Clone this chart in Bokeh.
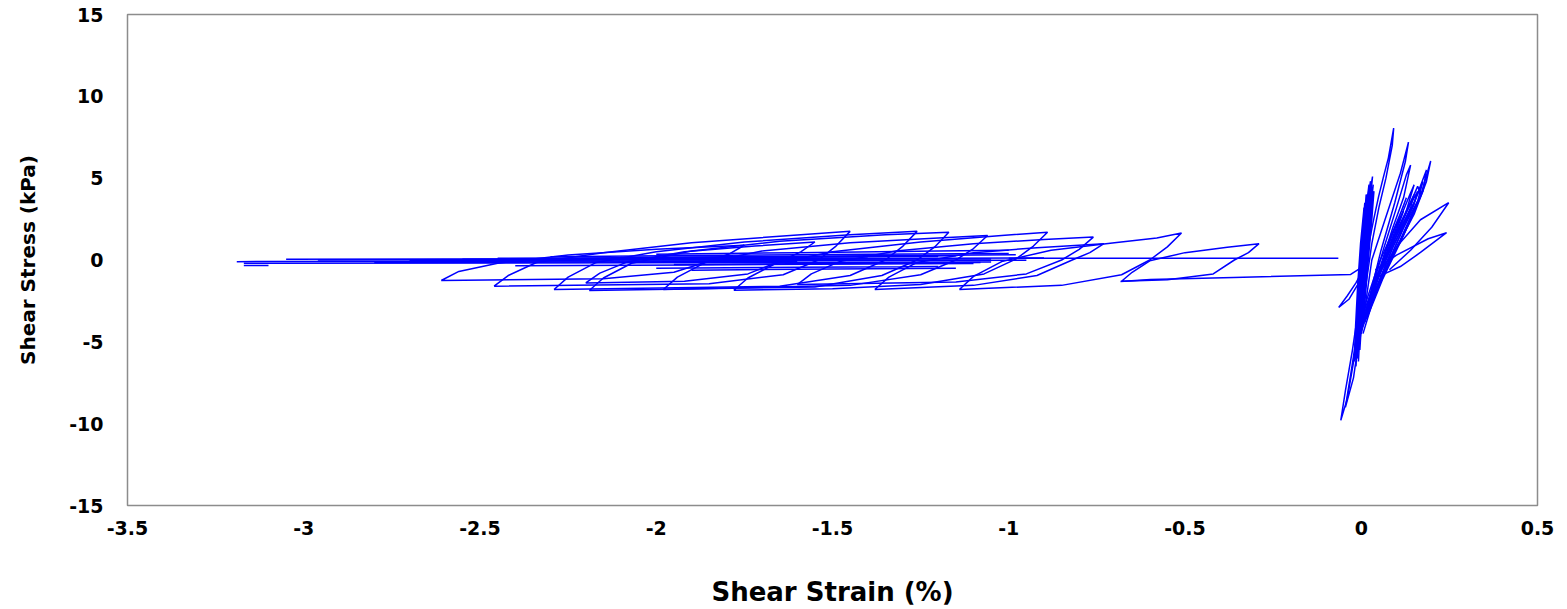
from bokeh.plotting import figure
from bokeh.models import FixedTicker, Range1d
from bokeh.embed import file_html
from bokeh.resources import INLINE

# ---- axis ticks ----
x_ticks = [-3.5, -3.0, -2.5, -2.0, -1.5, -1.0, -0.5, 0.0, 0.5]
x_tick_labels = ["-3.5", "-3", "-2.5", "-2", "-1.5", "-1", "-0.5", "0", "0.5"]
y_ticks = [-15, -10, -5, 0, 5, 10, 15]
y_tick_labels = ["-15", "-10", "-5", "0", "5", "10", "15"]

# ---- large-strain cycles drifting to negative strain (strain %, stress kPa) ----
drift_strain = [
    [-0.68, -0.65, -0.60, -0.50, -0.38, -0.29, -0.32, -0.36, -0.42, -0.55, -0.68],
    [-1.14, -1.10, -1.02, -0.88, -0.70, -0.58, -0.51, -0.55, -0.60, -0.68, -0.85, -1.14],
    [-1.38, -1.34, -1.26, -1.10, -0.92, -0.73, -0.77, -0.82, -0.92, -1.10, -1.38],
    [-1.78, -1.74, -1.66, -1.50, -1.25, -1.02, -0.89, -0.93, -0.98, -1.07, -1.25, -1.50, -1.78],
    [-1.98, -1.94, -1.86, -1.70, -1.45, -1.20, -1.06, -1.10, -1.15, -1.25, -1.45, -1.98],
    [-2.19, -2.15, -2.07, -1.90, -1.65, -1.35, -1.17, -1.21, -1.26, -1.36, -1.55, -2.19],
    [-2.29, -2.25, -2.17, -2.00, -1.75, -1.45, -1.26, -1.30, -1.35, -1.45, -1.65, -2.29],
    [-2.46, -2.42, -2.34, -2.15, -1.90, -1.62, -1.45, -1.49, -1.54, -1.64, -1.85, -2.46],
    [-2.61, -2.56, -2.45, -2.25, -2.00, -1.75, -1.79, -1.84, -1.95, -2.15, -2.61],
    [-2.20, -2.16, -2.08, -1.92, -1.72, -1.55, -1.59, -1.64, -1.74, -1.92, -2.20],
    [-1.60, -1.56, -1.48, -1.32, -1.10, -0.90, -0.76, -0.80, -0.85, -0.95, -1.15, -1.60],
]
drift_stress = [
    [-1.30, -0.75, -0.05, 0.45, 0.78, 1.00, 0.45, 0.00, -0.85, -1.20, -1.30],
    [-1.80, -1.00, -0.10, 0.60, 1.05, 1.35, 1.65, 0.80, 0.00, -0.90, -1.55, -1.80],
    [-1.80, -1.05, -0.15, 0.45, 0.75, 1.00, 0.45, 0.00, -0.95, -1.55, -1.80],
    [-1.85, -1.10, -0.20, 0.50, 1.10, 1.50, 1.70, 0.85, 0.05, -0.85, -1.50, -1.75, -1.85],
    [-1.80, -1.05, -0.15, 0.55, 1.05, 1.35, 1.50, 0.70, 0.00, -0.90, -1.55, -1.80],
    [-1.86, -1.10, -0.20, 0.55, 1.15, 1.55, 1.70, 0.80, 0.00, -0.95, -1.65, -1.86],
    [-1.80, -1.05, -0.15, 0.50, 1.10, 1.55, 1.75, 0.85, 0.00, -0.95, -1.60, -1.80],
    [-1.60, -0.95, -0.15, 0.45, 1.05, 1.50, 1.75, 0.85, 0.00, -0.90, -1.45, -1.60],
    [-1.25, -0.70, -0.20, 0.30, 0.65, 0.90, 0.40, 0.00, -0.75, -1.15, -1.25],
    [-1.40, -0.80, -0.10, 0.50, 0.85, 1.10, 0.50, 0.00, -0.85, -1.30, -1.40],
    [-1.50, -0.85, -0.10, 0.55, 1.00, 1.25, 1.40, 0.65, 0.00, -0.85, -1.35, -1.50],
]

# ---- long near-zero-stress sweeps ----
sweep_strain = [
    [-3.19, -2.50, -1.80, -0.95],
    [-3.17, -2.40, -1.70, -1.05],
    [-2.96, -2.30, -1.60, -0.90],
    [-1.00, -0.60, -0.30, -0.065],
    [-3.17, -3.10],
    [-2.55, -2.00, -1.50, -1.20],
    [-2.30, -1.90, -1.40, -1.00],
    [-2.40, -1.90, -1.40, -1.10],
    [-2.00, -1.60, -1.20, -1.00],
    [-2.00, -1.60, -1.30, -1.20],
    [-2.80, -2.20, -1.60],
    [-0.683, -0.598, -0.362, -0.030, 0.000],
    [-3.05, -2.60, -2.10, -1.40],
    [-2.70, -2.10, -1.50, -1.05],
    [-2.10, -1.70, -1.30, -0.98],
    [-1.95, -1.55, -1.25, -1.08],
    [-2.45, -1.95, -1.45, -1.15],
    [-1.90, -1.50, -1.15],
]
sweep_stress = [
    [-0.10, -0.08, -0.05, -0.02],
    [-0.20, -0.18, -0.15, -0.12],
    [0.00, 0.03, 0.08, 0.12],
    [0.10, 0.10, 0.10, 0.10],
    [-0.33, -0.33],
    [0.05, 0.12, 0.18, 0.22],
    [0.20, 0.28, 0.35, 0.40],
    [-0.35, -0.30, -0.25, -0.22],
    [0.35, 0.45, 0.55, 0.60],
    [-0.50, -0.45, -0.42, -0.40],
    [-0.15, -0.12, -0.08],
    [-1.31, -1.19, -1.07, -0.88, -0.46],
    [0.05, 0.06, 0.08, 0.10],
    [-0.05, 0.00, 0.04, 0.06],
    [0.15, 0.22, 0.28, 0.32],
    [-0.28, -0.22, -0.18, -0.15],
    [0.10, 0.16, 0.22, 0.26],
    [-0.62, -0.55, -0.50],
]

# ---- small-strain cycles around zero strain ----
cyclic_strain = [
    [-0.008, 0.005, 0.018, 0.035, 0.049, 0.063, 0.077, 0.092, 0.088, 0.070, 0.050, 0.030, 0.010, -0.005],
    [0.000, 0.030, 0.068, 0.111, 0.134, 0.125, 0.095, 0.055, 0.015],
    [0.000, 0.032, 0.120, 0.168, 0.197, 0.185, 0.150, 0.090, 0.040, 0.005],
    [-0.012, -0.005, 0.005, 0.018, 0.032, 0.025, 0.012, 0.000, -0.008],
    [-0.010, 0.000, 0.010, 0.022, 0.018, 0.006, -0.004],
    [-0.015, -0.006, 0.004, 0.014, 0.008, -0.002, -0.012],
    [-0.005, 0.008, 0.020, 0.030, 0.024, 0.010, -0.002],
    [0.000, 0.040, 0.100, 0.150, 0.185, 0.175, 0.130, 0.070, 0.020],
    [0.005, 0.050, 0.110, 0.160, 0.170, 0.120, 0.060, 0.015],
    [0.010, 0.060, 0.110, 0.150, 0.140, 0.090, 0.030],
    [-0.058, -0.045, -0.025, -0.008, 0.005, 0.000, -0.020, -0.040, -0.058],
    [-0.045, -0.030, -0.012, 0.004, -0.004, -0.022, -0.045],
    [-0.064, -0.040, -0.015, -0.005, -0.010, -0.035, -0.064],
    [0.060, 0.111, 0.168, 0.248, 0.200, 0.140, 0.080],
    [0.040, 0.100, 0.190, 0.242, 0.168, 0.111, 0.050],
    [-0.012, 0.000, 0.012, 0.020, 0.014, 0.002, -0.010],
    [-0.004, 0.006, 0.016, 0.026, 0.020, 0.008, -0.006],
    [-0.017, -0.010, 0.000, 0.010, 0.004, -0.006, -0.015],
    [-0.014, -0.004, 0.006, 0.016, 0.010, 0.000, -0.012],
    [-0.010, 0.000, 0.012, 0.024, 0.018, 0.006, -0.008],
    [-0.006, 0.004, 0.016, 0.028, 0.022, 0.010, -0.004],
    [0.000, 0.010, 0.020, 0.032, 0.026, 0.014, 0.002],
    [-0.016, -0.008, 0.002, 0.012, 0.006, -0.004, -0.014],
    [-0.008, 0.004, 0.014, 0.026, 0.020, 0.008, -0.006],
    [-0.012, -0.002, 0.008, 0.020, 0.014, 0.004, -0.010],
    [0.000, 0.040, 0.090, 0.140, 0.175, 0.160, 0.110, 0.055, 0.010],
    [0.005, 0.045, 0.095, 0.130, 0.160, 0.150, 0.100, 0.050, 0.012],
    [0.010, 0.050, 0.085, 0.120, 0.110, 0.070, 0.030],
    [-0.020, -0.016, -0.010, -0.002, 0.008, 0.002, -0.008, -0.014, -0.019],
    [-0.018, -0.012, -0.004, 0.006, 0.016, 0.028, 0.020, 0.008, -0.004, -0.016],
    [0.004, 0.012, 0.022, 0.030, 0.036, 0.030, 0.018, 0.008],
    [0.010, 0.030, 0.060, 0.090, 0.120, 0.140, 0.128, 0.100, 0.065, 0.030, 0.012],
    [0.014, 0.040, 0.070, 0.100, 0.128, 0.118, 0.085, 0.050, 0.020],
    [0.020, 0.050, 0.090, 0.125, 0.150, 0.138, 0.100, 0.060, 0.028],
    [-0.019, -0.013, -0.006, 0.002, 0.010, 0.004, -0.004, -0.012, -0.018],
    [-0.015, -0.009, -0.002, 0.006, 0.014, 0.022, 0.016, 0.006, -0.004, -0.013],
    [-0.011, -0.003, 0.006, 0.015, 0.024, 0.034, 0.026, 0.014, 0.004, -0.008],
    [-0.003, 0.006, 0.016, 0.026, 0.034, 0.028, 0.016, 0.004],
]
cyclic_stress = [
    [-5.5, -2.0, 0.6, 2.45, 3.86, 5.08, 6.24, 8.06, 7.0, 5.0, 3.2, 1.0, -2.0, -5.0],
    [-4.5, 0.0, 2.5, 5.3, 7.2, 6.0, 3.5, 0.5, -3.0],
    [-4.2, -2.4, 2.0, 3.9, 6.05, 4.8, 2.8, 0.3, -2.0, -4.5],
    [-6.0, -2.0, 1.0, 3.3, 5.1, 3.5, 0.5, -3.0, -6.2],
    [-5.0, -1.0, 2.5, 4.6, 3.0, 0.0, -4.0],
    [-6.5, -3.0, 1.0, 4.0, 2.0, -2.0, -6.0],
    [-5.0, -1.5, 2.0, 4.4, 2.5, -1.0, -4.5],
    [-4.0, -1.5, 1.5, 3.5, 5.5, 4.2, 2.0, -0.5, -3.2],
    [-3.5, -0.8, 2.0, 4.5, 4.0, 1.5, -1.2, -3.6],
    [-3.0, -0.2, 2.2, 4.0, 3.2, 0.8, -2.5],
    [-9.8, -8.0, -5.5, -3.0, -1.0, -3.5, -6.0, -8.5, -9.8],
    [-9.0, -7.0, -4.5, -2.0, -4.5, -7.2, -9.0],
    [-2.9, -2.2, -1.4, -1.0, -1.5, -2.4, -2.9],
    [-0.5, 1.07, 2.46, 3.5, 2.0, 0.6, -0.6],
    [-0.6, 0.3, 1.3, 1.67, 0.46, -0.4, -1.0],
    [-6.0, -2.5, 1.5, 3.8, 1.0, -3.0, -5.8],
    [-5.5, -2.0, 1.8, 4.2, 1.5, -2.0, -5.2],
    [-6.0, -3.0, 0.5, 3.5, 1.5, -2.0, -5.5],
    [-5.8, -2.5, 1.0, 4.0, 2.0, -1.5, -5.5],
    [-5.5, -2.0, 1.5, 4.5, 2.5, -1.0, -5.0],
    [-5.0, -1.5, 1.8, 4.3, 2.8, -0.5, -4.5],
    [-4.5, -1.0, 2.0, 4.0, 2.5, -0.5, -4.0],
    [-6.1, -3.5, -0.5, 2.5, 0.5, -3.0, -6.0],
    [-4.0, -0.5, 2.5, 4.8, 3.5, 0.0, -3.5],
    [-6.0, -2.8, 0.8, 3.0, 1.2, -2.0, -5.6],
    [-4.4, -1.8, 0.8, 3.0, 4.8, 3.6, 1.2, -1.2, -3.8],
    [-3.8, -1.0, 1.5, 3.0, 4.2, 3.4, 1.0, -1.5, -3.4],
    [-2.8, -0.2, 1.5, 3.0, 2.4, 0.2, -2.2],
    [-6.2, -4.0, -1.5, 1.0, 3.2, 1.5, -1.5, -4.0, -6.0],
    [-5.8, -3.5, -1.0, 1.5, 3.5, 4.8, 3.0, 0.5, -2.5, -5.5],
    [-4.0, -1.5, 1.0, 3.0, 4.2, 2.5, -0.5, -3.2],
    [-3.8, -2.0, 0.0, 2.0, 3.8, 5.8, 5.2, 3.2, 0.8, -1.8, -3.5],
    [-3.2, -1.5, 0.5, 2.2, 3.8, 3.2, 1.5, -0.8, -2.8],
    [-3.0, -1.0, 1.0, 2.8, 4.6, 4.0, 2.0, -0.2, -2.4],
    [-6.0, -4.2, -2.0, 0.5, 2.8, 1.0, -1.8, -4.2, -5.9],
    [-5.9, -4.0, -1.8, 0.6, 2.6, 4.4, 2.6, 0.0, -2.8, -5.6],
    [-5.6, -3.2, -0.8, 1.5, 3.4, 4.6, 3.0, 0.8, -1.8, -5.0],
    [-4.8, -2.2, 0.5, 2.6, 4.2, 3.2, 0.6, -2.6],
]

LINE = "#0000ff"
FONT = "'DejaVu Sans', Verdana, sans-serif"

p = figure(
    width=1567, height=609,
    x_range=Range1d(-3.5, 0.5), y_range=Range1d(-15, 15),
    output_backend="svg", toolbar_location=None,
    min_border_left=127, min_border_right=30,
    min_border_top=14, min_border_bottom=102,
    background_fill_color="white", border_fill_color="white",
)
p.outline_line_color = "#8c8c8c"
p.outline_line_width = 1.5
p.grid.visible = False

p.multi_line(sweep_strain, sweep_stress, line_color=LINE, line_width=1.5)
p.multi_line(drift_strain, drift_stress, line_color=LINE, line_width=1.5)
p.multi_line(cyclic_strain, cyclic_stress, line_color=LINE, line_width=1.5)

p.xaxis.ticker = FixedTicker(ticks=x_ticks)
p.xaxis.major_label_overrides = dict(zip(x_ticks, x_tick_labels))
p.yaxis.ticker = FixedTicker(ticks=y_ticks)
p.yaxis.major_label_overrides = dict(zip(y_ticks, y_tick_labels))

for ax in (p.xaxis[0], p.yaxis[0]):
    ax.axis_line_color = None
    ax.major_tick_line_color = None
    ax.minor_tick_line_color = None
    ax.major_tick_out = 0
    ax.major_tick_in = 0
    ax.major_label_text_font = FONT
    ax.major_label_text_font_style = "bold"
    ax.major_label_text_font_size = "19px"
    ax.major_label_text_color = "black"
    ax.axis_label_text_font = FONT
    ax.axis_label_text_font_style = "bold"
    ax.axis_label_text_color = "black"

p.xaxis.axis_label = "Shear Strain (%)"
p.xaxis.axis_label_text_font_size = "26px"
p.xaxis.axis_label_text_line_height = 0.7
p.xaxis.major_label_standoff = 15
p.xaxis.axis_label_standoff = 39

p.yaxis.axis_label = "Shear Stress (kPa)"
p.yaxis.axis_label_text_font_size = "20px"
p.yaxis.major_label_standoff = 24
p.yaxis.axis_label_standoff = 26

open("out.html", "w").write(file_html(p, INLINE))
